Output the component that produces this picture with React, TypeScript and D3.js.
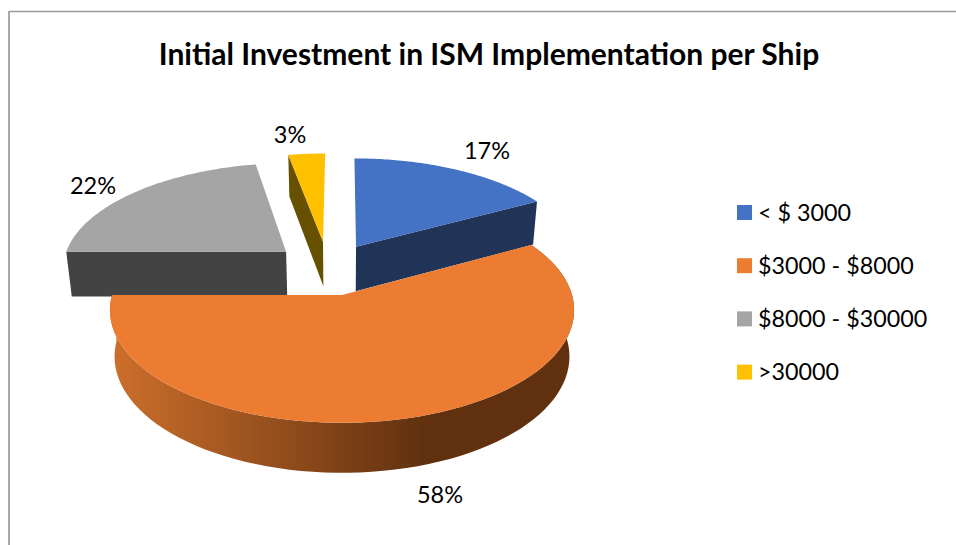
import React from "react";
import * as d3 from "d3";

const title = "Initial Investment in ISM Implementation per Ship";
const categories = ["< $ 3000", "$3000 - $8000", "$8000 - $30000", ">30000"];
const values = [17, 58, 22, 3];
const labels = ["17%", "58%", "22%", "3%"];
const topColors = ["#4472C4", "#EB7C31", "#A5A5A5", "#FFC000"];
const sideColors = ["#203458", "#61310F", "#434343", "#675000"];

// World-plane placement of every slice: exploded apex and radius
const apexX = [14.9, 0, -59, -20.3];
const apexZ = [106.4, 0, 94.8, 118.2];
const radii = [234, 230, 232, 237];

const labelX = [487, 440, 93, 290];
const labelY = [151, 495, 186, 135];

const W = 956;
const H = 545;
const CX = 342;
const CY = 295;
const PERSP = 0.000584;
const TILT = 0.481;

type P = [number, number];

// perspective projection of a point of the pie's top plane
function project(x: number, z: number): P {
  const s = 1 / (1 + PERSP * z);
  return [CX + s * x, CY - s * z * TILT];
}
// the same point on the bottom plane
function lower([x, y]: P): P {
  return [CX + (x - CX) * 0.98, y + 43 + ((y - 200) / 223) * 7];
}

const pieData = d3.pie<number>().sort(null).startAngle(0).endAngle(2 * Math.PI)(values);

function rimPoint(i: number, a: number): P {
  return project(apexX[i] + radii[i] * Math.sin(a), apexZ[i] + radii[i] * Math.cos(a));
}
function arcPoints(i: number, a0: number, a1: number): P[] {
  return d3.range(0, 81).map((k) => rimPoint(i, a0 + ((a1 - a0) * k) / 80));
}
const line = d3.line<P>().x((d) => d[0]).y((d) => d[1]);
const closed = (pts: P[]) => (line(pts) ?? "") + "Z";

export default function App() {
  const apexes = pieData.map((_, i) => project(apexX[i], apexZ[i]));
  const topPath = (i: number) =>
    closed([apexes[i], ...arcPoints(i, pieData[i].startAngle, pieData[i].endAngle)]);
  const wall = (a: P, b: P) => closed([a, b, lower(b), lower(a)]);

  const blueEnd = rimPoint(0, pieData[0].endAngle);
  const grayStart = rimPoint(2, pieData[2].startAngle);
  const yellowStart = rimPoint(3, pieData[3].startAngle);

  const orangeRim = arcPoints(1, pieData[1].startAngle, pieData[1].endAngle);
  const orangeSide = closed([...orangeRim, ...orangeRim.map(lower).reverse()]);

  const shade = d3.scaleLinear<string>().domain([115, 423]).range(["#CB6E2B", sideColors[1]]);
  const stops = [0, 0.25, 0.5, 0.75, 1].map((t) => 115 + t * 308);

  const font = "Lato, 'Open Sans', sans-serif";

  return (
    <svg
      width={W}
      height={H}
      viewBox={`0 0 ${W} ${H}`}
      style={{ position: "absolute", left: 0, top: 0, background: "#fff" }}
    >
      <defs>
        <linearGradient id="rim" gradientUnits="userSpaceOnUse" x1={115} x2={574} y1={0} y2={0}>
          {stops.map((x) => (
            <stop key={x} offset={(x - 115) / 459} stopColor={shade(x)} />
          ))}
          <stop offset={1} stopColor={sideColors[1]} />
        </linearGradient>
      </defs>
      <rect width={W} height={H} fill="#fff" />
      <line x1={9} x2={W} y1={11.5} y2={11.5} stroke="#9a9a9a" strokeWidth={1.5} />
      <line x1={9} x2={9} y1={11} y2={H} stroke="#a8a8a8" strokeWidth={2} />

      <text x={489} y={65} textAnchor="middle" fontFamily={font} fontWeight={700} fontSize={30} fill="#000">
        {title}
      </text>

      {/* gray */}
      <path d={wall(apexes[2], rimPoint(2, pieData[2].startAngle))} fill={sideColors[2]} />
      <path d={topPath(2)} fill={topColors[2]} />
      {/* yellow */}
      <path d={wall(yellowStart, apexes[3])} fill={sideColors[3]} />
      <path d={topPath(3)} fill={topColors[3]} />
      {/* blue */}
      <path d={wall(apexes[0], blueEnd)} fill={sideColors[0]} />
      <path d={topPath(0)} fill={topColors[0]} />
      {/* orange */}
      <path d={orangeSide} fill="url(#rim)" />
      <path d={topPath(1)} fill={topColors[1]} />

      {labels.map((t, i) => (
        <text key={t} x={labelX[i]} y={labelY[i]} dy="0.35em" textAnchor="middle" fontFamily={font} fontSize={23.5} fill="#000">
          {t}
        </text>
      ))}

      {categories.map((c, i) => {
        const y = 212.5 + i * 53.2;
        return (
          <g key={c}>
            <rect x={737} y={y - 7.5} width={15} height={15} fill={topColors[i]} />
            <text x={758} y={y} dy="0.35em" fontFamily={font} fontSize={23.3} fill="#000">
              {c}
            </text>
          </g>
        );
      })}
    </svg>
  );
}
